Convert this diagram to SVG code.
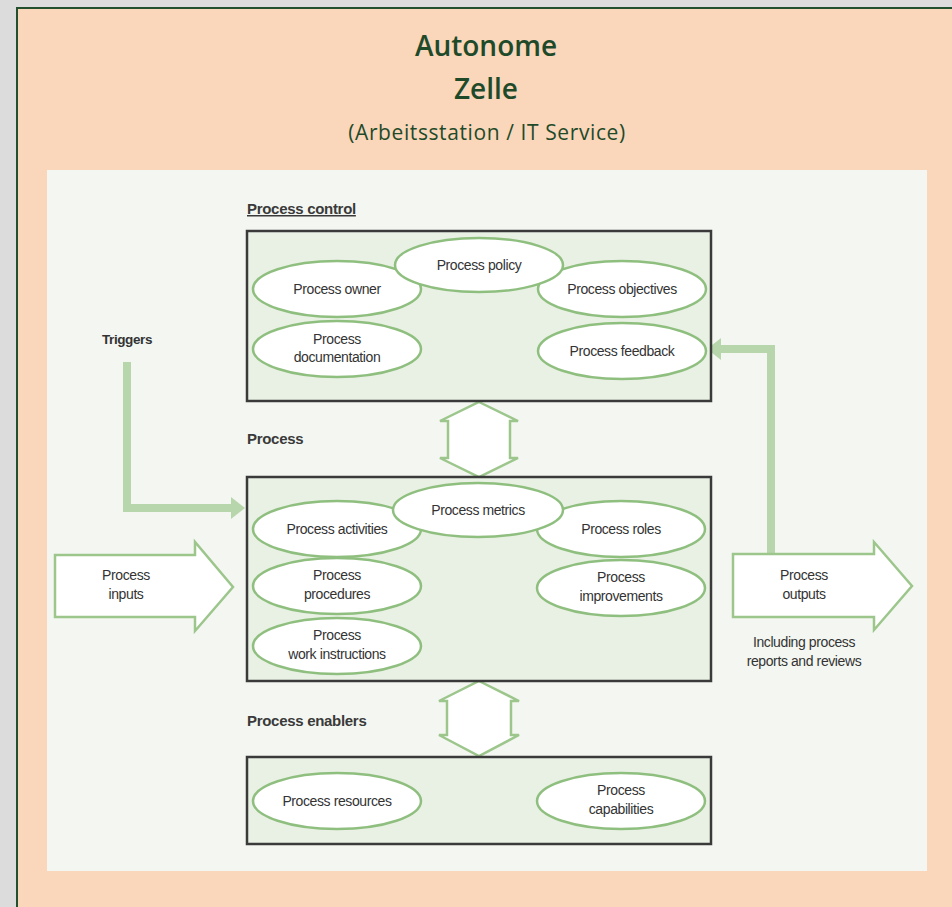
<svg xmlns="http://www.w3.org/2000/svg" width="952" height="907" viewBox="0 0 952 907">
<defs>
<style>
.t{font-family:"Liberation Sans","DejaVu Sans",sans-serif;font-size:14px;fill:#333333;text-anchor:middle;letter-spacing:-0.4px}
.lbl{font-family:"Liberation Sans","DejaVu Sans",sans-serif;font-size:15px;font-weight:bold;fill:#3a3a3a;letter-spacing:-0.3px}
.box{fill:#e9f1e4;stroke:#3a3a3a;stroke-width:2.5}
.ell{fill:#ffffff;stroke:#8fbf7f;stroke-width:2.5}
.blk{fill:#ffffff;stroke:#9cc68c;stroke-width:2.5;stroke-linejoin:miter}
.conn{fill:none;stroke:#b8d6ab;stroke-width:8}
.title{font-family:"Open Sans","Liberation Sans",sans-serif;font-weight:600;font-size:28px;fill:#1f4a2a;text-anchor:middle}
</style>
</defs>
<rect x="0" y="0" width="952" height="907" fill="#dcdcdc"/>
<rect x="17" y="8" width="940" height="905" fill="#fad7bb" stroke="#22502f" stroke-width="2"/>
<text class="title" x="486" y="56">Autonome</text>
<text class="title" x="486" y="99">Zelle</text>
<text x="487" y="140" font-family="'Open Sans','Liberation Sans',sans-serif" font-size="21" letter-spacing="0.6" fill="#1f4a2a" text-anchor="middle">(Arbeitsstation / IT Service)</text>
<rect x="47" y="170" width="880" height="701" fill="#f4f7f1"/>

<g id="connectors">
  <polyline class="conn" points="127,362 127,508 232,508"/>
  <polygon points="231,497 245,508 231,519" fill="#b8d6ab"/>
  <polyline class="conn" points="771,553 771,349 720,349"/>
  <polygon points="721,338 707,349 721,360" fill="#b8d6ab"/>
  <polygon class="blk" points="479,402 518,421 510,421 510,458 518,458 479,477 440,458 448,458 448,421 440,421"/>
  <polygon class="blk" points="479,681 519,701 511,701 511,735 519,735 479,756 439,735 447,735 447,701 439,701"/>
</g>

<g id="process-inputs">
  <polygon class="blk" points="55,555 195,555 195,542 233,587 195,631 195,617 55,617"/>
  <text class="t" x="126" y="580">Process</text>
  <text class="t" x="126" y="599">inputs</text>
</g>
<g id="process-outputs">
  <polygon class="blk" points="733,554 874,554 874,542 912,586 874,630 874,617 733,617"/>
  <text class="t" x="804" y="580">Process</text>
  <text class="t" x="804" y="599">outputs</text>
  <text class="t" x="804" y="647">Including process</text>
  <text class="t" x="804" y="666">reports and reviews</text>
</g>
<g id="triggers">
  <text class="t" x="127" y="344" style="font-weight:bold;font-size:13.5px">Triggers</text>
</g>

<g id="process-control">
  <text class="lbl" x="247" y="214" text-decoration="underline">Process control</text>
  <rect class="box" x="247" y="231" width="464" height="170"/>
  <g id="process-owner"><ellipse class="ell" cx="337" cy="289" rx="84" ry="28"/><text class="t" x="337" y="294">Process owner</text></g>
  <g id="process-objectives"><ellipse class="ell" cx="622" cy="289" rx="84" ry="28"/><text class="t" x="622" y="294">Process objectives</text></g>
  <g id="process-policy"><ellipse class="ell" cx="479" cy="265" rx="84" ry="27"/><text class="t" x="479" y="270">Process policy</text></g>
  <g id="process-documentation"><ellipse class="ell" cx="337" cy="349" rx="84" ry="28"/><text class="t" x="337" y="344">Process</text><text class="t" x="337" y="362">documentation</text></g>
  <g id="process-feedback"><ellipse class="ell" cx="622" cy="351" rx="84" ry="28"/><text class="t" x="622" y="356">Process feedback</text></g>
</g>

<g id="process">
  <text class="lbl" x="247" y="444">Process</text>
  <rect class="box" x="247" y="477" width="464" height="204"/>
  <g id="process-activities"><ellipse class="ell" cx="337" cy="529" rx="84" ry="28"/><text class="t" x="337" y="534">Process activities</text></g>
  <g id="process-roles"><ellipse class="ell" cx="621" cy="529" rx="84" ry="28"/><text class="t" x="621" y="534">Process roles</text></g>
  <g id="process-metrics"><ellipse class="ell" cx="478" cy="510" rx="85" ry="27"/><text class="t" x="478" y="515">Process metrics</text></g>
  <g id="process-procedures"><ellipse class="ell" cx="337" cy="586" rx="84" ry="28"/><text class="t" x="337" y="580">Process</text><text class="t" x="337" y="599">procedures</text></g>
  <g id="process-improvements"><ellipse class="ell" cx="621" cy="588" rx="84" ry="28"/><text class="t" x="621" y="582">Process</text><text class="t" x="621" y="601">improvements</text></g>
  <g id="process-work-instructions"><ellipse class="ell" cx="337" cy="646" rx="84" ry="28"/><text class="t" x="337" y="640">Process</text><text class="t" x="337" y="659">work instructions</text></g>
</g>

<g id="process-enablers">
  <text class="lbl" x="247" y="726">Process enablers</text>
  <rect class="box" x="247" y="757" width="464" height="87"/>
  <g id="process-resources"><ellipse class="ell" cx="337" cy="801" rx="84" ry="28"/><text class="t" x="337" y="806">Process resources</text></g>
  <g id="process-capabilities"><ellipse class="ell" cx="621" cy="801" rx="84" ry="28"/><text class="t" x="621" y="795">Process</text><text class="t" x="621" y="814">capabilities</text></g>
</g>
</svg>
